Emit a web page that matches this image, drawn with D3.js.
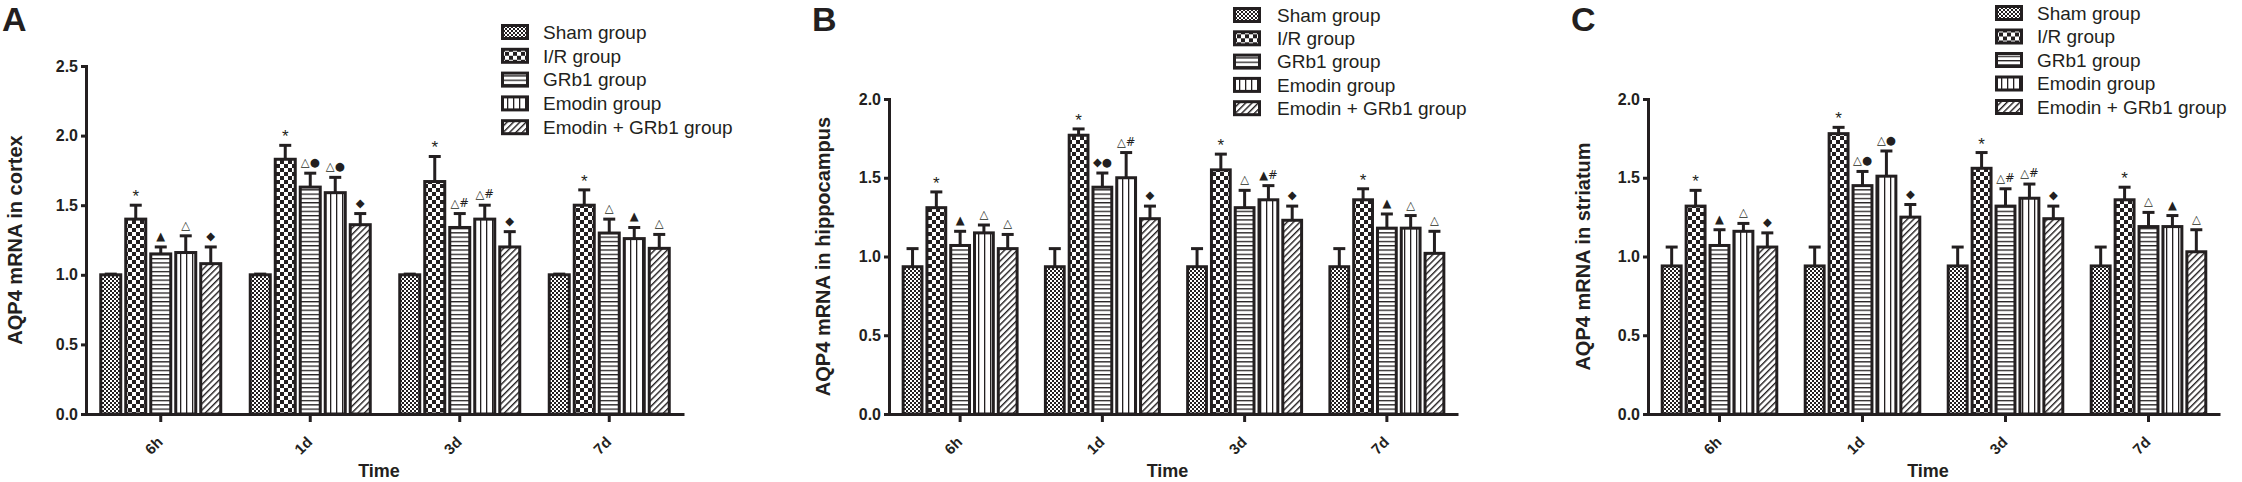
<!DOCTYPE html>
<meta charset="utf-8">
<style>
body { margin: 0; background: #fff; }
svg { display: block; font-family: "Liberation Sans", Arial, sans-serif; }
.axis path, .axis line { stroke: #231f20; stroke-width: 3; }
.axis text { font-weight: bold; font-size: 16px; fill: #231f20; }
.legend text { font-size: 19px; fill: #231f20; }
.mark { font-family: "DejaVu Sans", sans-serif; font-size: 11.5px; fill: #231f20; text-anchor: middle; }
.star { font-family: "Liberation Sans", Arial, sans-serif; font-size: 17px; }
</style>
<body>
<svg width="2242" height="482"></svg>
<script src="https://d3js.org/d3.v7.min.js"></script>
<script>

var times = ["6h", "1d", "3d", "7d"];
var groups = ["Sham group", "I/R group", "GRb1 group", "Emodin group", "Emodin + GRb1 group"];
var yTicksA = [0, 0.5, 1.0, 1.5, 2.0, 2.5];
var yTicksBC = [0, 0.5, 1.0, 1.5, 2.0];

// rows follow groups, columns follow times
var cortexMean = [
  [1.00, 1.00, 1.00, 1.00],
  [1.40, 1.83, 1.67, 1.50],
  [1.15, 1.63, 1.34, 1.30],
  [1.16, 1.59, 1.40, 1.26],
  [1.08, 1.36, 1.20, 1.19]
];
var cortexErr = [
  [0.005, 0.005, 0.005, 0.005],
  [0.10, 0.10, 0.18, 0.11],
  [0.05, 0.10, 0.10, 0.10],
  [0.12, 0.11, 0.10, 0.08],
  [0.12, 0.08, 0.11, 0.10]
];
var cortexMarks = [
  ["", "", "", ""],
  ["*", "*", "*", "*"],
  ["▲", "△●", "△#", "△"],
  ["△", "△●", "△#", "▲"],
  ["◆", "◆", "◆", "△"]
];

var hippoMean = [
  [0.935, 0.935, 0.935, 0.935],
  [1.31, 1.77, 1.55, 1.36],
  [1.07, 1.44, 1.31, 1.18],
  [1.15, 1.50, 1.36, 1.18],
  [1.05, 1.24, 1.23, 1.02]
];
var hippoErr = [
  [0.115, 0.115, 0.115, 0.115],
  [0.10, 0.04, 0.10, 0.07],
  [0.09, 0.09, 0.11, 0.09],
  [0.05, 0.16, 0.09, 0.08],
  [0.09, 0.08, 0.09, 0.14]
];
var hippoMarks = [
  ["", "", "", ""],
  ["*", "*", "*", "*"],
  ["▲", "◆●", "△", "▲"],
  ["△", "△#", "▲#", "△"],
  ["△", "◆", "◆", "△"]
];

var striatumMean = [
  [0.94, 0.94, 0.94, 0.94],
  [1.32, 1.78, 1.56, 1.36],
  [1.07, 1.45, 1.32, 1.19],
  [1.16, 1.51, 1.37, 1.19],
  [1.06, 1.25, 1.24, 1.03]
];
var striatumErr = [
  [0.12, 0.12, 0.12, 0.12],
  [0.10, 0.04, 0.10, 0.08],
  [0.10, 0.09, 0.11, 0.09],
  [0.05, 0.16, 0.09, 0.07],
  [0.09, 0.08, 0.08, 0.14]
];
var striatumMarks = [
  ["", "", "", ""],
  ["*", "*", "*", "*"],
  ["▲", "△●", "△#", "△"],
  ["△", "△●", "△#", "▲"],
  ["◆", "◆", "◆", "△"]
];

var ink = "#231f20";
var svg = d3.select("svg");
var defs = svg.append("defs");

// fill patterns, one per group
function pat(id, w, h) {
  var p = defs.append("pattern").attr("id", id)
      .attr("patternUnits", "userSpaceOnUse")
      .attr("width", w).attr("height", h);
  p.append("rect").attr("width", w).attr("height", h).attr("fill", "#fff");
  return p;
}
var p0 = pat("p0", 4, 4);
p0.append("rect").attr("width", 2).attr("height", 2).attr("fill", ink);
p0.append("rect").attr("x", 2).attr("y", 2).attr("width", 2).attr("height", 2).attr("fill", ink);
var p1 = pat("p1", 8, 8);
p1.append("rect").attr("width", 4).attr("height", 4).attr("fill", ink);
p1.append("rect").attr("x", 4).attr("y", 4).attr("width", 4).attr("height", 4).attr("fill", ink);
var p2 = pat("p2", 8, 4.3);
p2.append("rect").attr("width", 8).attr("height", 1.3).attr("fill", ink);
var p3 = pat("p3", 6, 8);
p3.append("rect").attr("width", 1.3).attr("height", 8).attr("fill", ink);
var p4 = pat("p4", 4.5, 8).attr("patternTransform", "rotate(45)");
p4.append("rect").attr("width", 1.4).attr("height", 8).attr("fill", ink);
var fills = ["url(#p0)", "url(#p1)", "url(#p2)", "url(#p3)", "url(#p4)"];

function drawPanel(cfg) {
  var y = d3.scaleLinear().domain([0, cfg.yMax]).range([414, cfg.yTop]);
  var x0 = d3.scaleBand().domain(times).range([cfg.left, cfg.right]);
  var x1 = d3.scaleBand().domain(d3.range(groups.length))
      .range([0, x0.bandwidth()]).paddingOuter(0.49);
  var bw = x1.step();

  var g = svg.append("g");

  // panel letter
  g.append("text")
      .attr("x", cfg.letterX).attr("y", 31)
      .style("font-size", "34px").style("font-weight", "bold").attr("fill", ink)
      .text(cfg.letter);

  // y axis label
  g.append("text")
      .attr("transform", "translate(" + cfg.labelX + "," + ((414 + cfg.yTop) / 2) + ") rotate(-90)")
      .attr("text-anchor", "middle")
      .style("font-size", "20px").style("font-weight", "bold").attr("fill", ink)
      .text(cfg.label);

  // bars
  var rows = [];
  groups.forEach(function(grp, gi) {
    times.forEach(function(t, ti) {
      rows.push({g: gi, t: t, v: cfg.mean[gi][ti], e: cfg.err[gi][ti], m: cfg.marks[gi][ti]});
    });
  });

  var bars = g.selectAll(".bar").data(rows).enter().append("g").attr("class", "bar");
  bars.append("line")
      .attr("x1", function(d) { return x0(d.t) + x1(d.g) + bw / 2; })
      .attr("x2", function(d) { return x0(d.t) + x1(d.g) + bw / 2; })
      .attr("y1", function(d) { return y(d.v); })
      .attr("y2", function(d) { return y(d.v + d.e); })
      .attr("stroke", ink).attr("stroke-width", 3);
  bars.append("line")
      .attr("x1", function(d) { return x0(d.t) + x1(d.g) + bw / 2 - 6; })
      .attr("x2", function(d) { return x0(d.t) + x1(d.g) + bw / 2 + 6; })
      .attr("y1", function(d) { return y(d.v + d.e); })
      .attr("y2", function(d) { return y(d.v + d.e); })
      .attr("stroke", ink).attr("stroke-width", 3);
  bars.append("rect")
      .attr("x", function(d) { return x0(d.t) + x1(d.g) + 2.5; })
      .attr("y", function(d) { return y(d.v); })
      .attr("width", bw - 5)
      .attr("height", function(d) { return 414 - y(d.v); })
      .attr("fill", function(d) { return fills[d.g]; })
      .attr("stroke", ink).attr("stroke-width", 3);
  bars.append("text")
      .attr("class", function(d) { return d.m === "*" ? "mark star" : "mark"; })
      .attr("x", function(d) { return x0(d.t) + x1(d.g) + bw / 2; })
      .attr("y", function(d) { return y(d.v + d.e) - (d.m === "*" ? 3 : 7); })
      .text(function(d) { return d.m; });

  // axes
  g.append("g")
      .attr("class", "axis")
      .attr("transform", "translate(" + cfg.left + ",0)")
      .call(d3.axisLeft(y).tickValues(cfg.ticks).tickFormat(d3.format(".1f")).tickSize(5).tickPadding(3));
  var xa = g.append("g")
      .attr("class", "axis")
      .attr("transform", "translate(0,414)")
      .call(d3.axisBottom(x0).tickSize(8).tickSizeOuter(0));
  // rotated labels end just below-right of each tick
  xa.selectAll("text")
      .style("font-size", "15px")
      .attr("text-anchor", "end")
      .attr("y", 0).attr("dy", 0)
      .attr("transform", "translate(3,29) rotate(-45)");

  g.append("text")
      .attr("x", (cfg.left + cfg.right) / 2 - 6).attr("y", 477)
      .attr("text-anchor", "middle")
      .style("font-size", "18px").style("font-weight", "bold").attr("fill", ink)
      .text("Time");

  // legend
  var lg = g.append("g").attr("class", "legend");
  var items = lg.selectAll("g").data(groups).enter().append("g")
      .attr("transform", function(d, i) { return "translate(" + cfg.legX + "," + (cfg.legY + i * cfg.legStep) + ")"; });
  items.append("rect")
      .attr("x", 1.5).attr("y", -6.5).attr("width", 25).attr("height", 13)
      .attr("fill", function(d, i) { return fills[i]; })
      .attr("stroke", ink).attr("stroke-width", 3);
  items.append("text")
      .attr("x", cfg.legTextDx).attr("dy", "0.36em")
      .text(function(d) { return d; });
}

drawPanel({letter: "A", letterX: 2, label: "AQP4 mRNA in cortex", labelX: 22,
  left: 86, right: 684, yTop: 66, yMax: 2.5, ticks: yTicksA,
  mean: cortexMean, err: cortexErr, marks: cortexMarks,
  legX: 501, legY: 32, legStep: 23.8, legTextDx: 42});

drawPanel({letter: "B", letterX: 812, label: "AQP4 mRNA in hippocampus", labelX: 830,
  left: 889, right: 1458, yTop: 99, yMax: 2.0, ticks: yTicksBC,
  mean: hippoMean, err: hippoErr, marks: hippoMarks,
  legX: 1233, legY: 15, legStep: 23.3, legTextDx: 44});

drawPanel({letter: "C", letterX: 1571, label: "AQP4 mRNA in striatum", labelX: 1590,
  left: 1648, right: 2220, yTop: 99, yMax: 2.0, ticks: yTicksBC,
  mean: striatumMean, err: striatumErr, marks: striatumMarks,
  legX: 1995, legY: 13, legStep: 23.5, legTextDx: 42});

</script>
</body>
